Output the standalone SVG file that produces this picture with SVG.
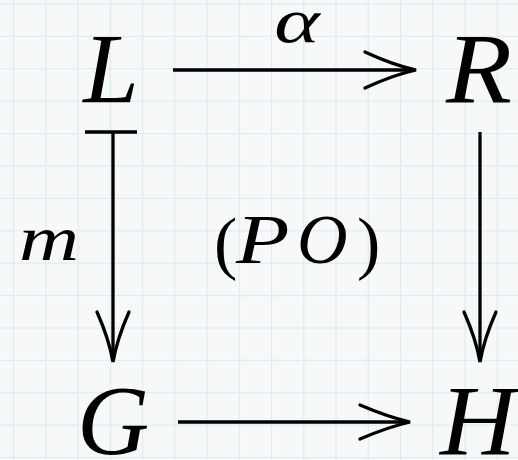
<svg xmlns="http://www.w3.org/2000/svg" width="518" height="460" viewBox="0 0 518 460">
<defs>
<pattern id="grid" x="13" y="3.5" width="32.25" height="32.4" patternUnits="userSpaceOnUse">
<path d="M0,0 V32.4 M0,0 H32.25" fill="none" stroke="#e0e9ec" stroke-width="2.2"/>
</pattern>
<style>
.m{font-family:"Liberation Serif","Times New Roman",serif;font-style:italic;fill:#000}
.r{font-family:"Liberation Serif","Times New Roman",serif;font-style:normal;fill:#000}
.ln{fill:none;stroke:#000;stroke-width:3.3;stroke-linecap:butt}
.hd{fill:none;stroke:#000;stroke-width:3.3;stroke-linecap:round}
</style>
</defs>
<rect width="518" height="460" fill="#f6f8f9"/>
<rect width="518" height="460" fill="url(#grid)"/>
<g id="node-L"><text class="m" x="111" y="102" font-size="100" text-anchor="middle">L</text></g>
<g id="node-R"><text class="m" x="479" y="102" font-size="100" text-anchor="middle" transform="translate(479,0) scale(1.08,1) translate(-479,0)">R</text></g>
<g id="node-G"><text class="m" x="113" y="454" font-size="100" text-anchor="middle">G</text></g>
<g id="node-H"><text class="m" x="478" y="454" font-size="100" text-anchor="middle" transform="translate(478,0) scale(1.05,1) translate(-478,0)">H</text></g>
<g id="label-alpha"><text class="m" x="297" y="42" font-size="64" text-anchor="middle" transform="translate(297,0) scale(1.35,1) translate(-297,0)">α</text></g>
<g id="label-m"><text class="m" x="49" y="260" font-size="64" text-anchor="middle" transform="translate(49,0) scale(1.3,1) translate(-49,0)">m</text></g>
<g id="label-PO">
<text class="r" x="214" y="266" font-size="70">(</text>
<text class="m" x="236" y="263" font-size="70" transform="translate(236,0) scale(1.25,1) translate(-236,0)">P</text>
<text class="m" x="297" y="263" font-size="70">O</text>
<text class="r" x="357" y="266" font-size="70">)</text>
</g>
<g id="connectors">
<path class="ln" d="M173,70 H415"/>
<path class="hd" d="M365,52 Q393,65 416,70 Q393,75 365,88"/>
<path class="ln" d="M85,132 H137 M113,132 V361"/>
<path class="hd" d="M97,312 Q109,339 113,362 Q117,339 129,312"/>
<path class="ln" d="M480,132 V361"/>
<path class="hd" d="M464,312 Q476,339 480,362 Q484,339 496,312"/>
<path class="ln" d="M178,422 H409"/>
<path class="hd" d="M360,405 Q388,417 410,422 Q388,427 360,439"/>
</g>
</svg>
